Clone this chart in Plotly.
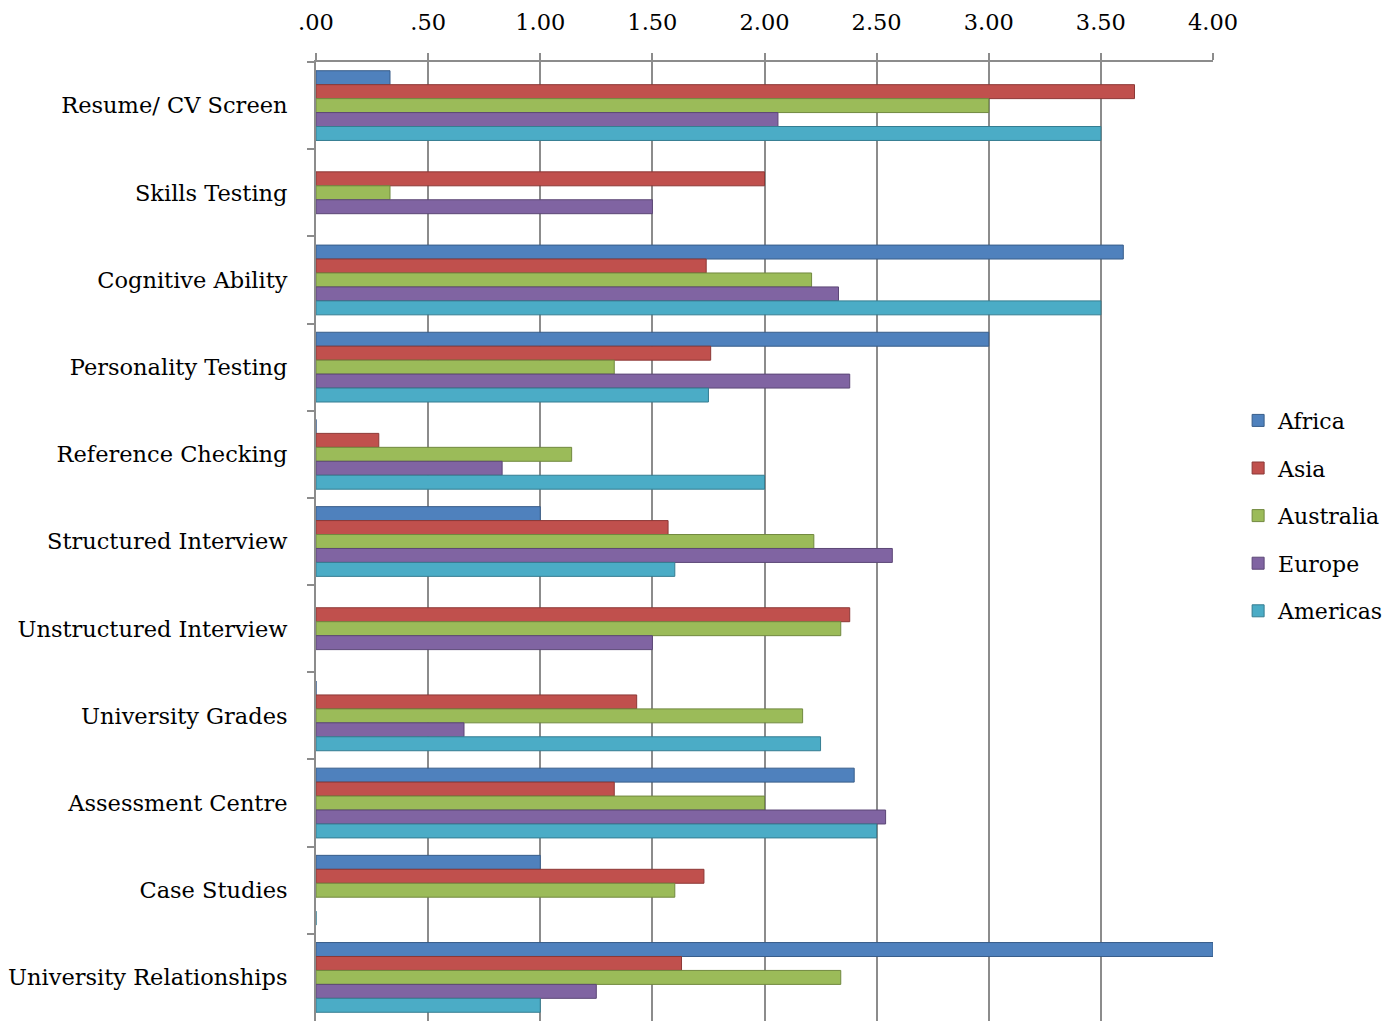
import plotly.graph_objects as go

categories = ["Resume/ CV Screen", "Skills Testing", "Cognitive Ability", "Personality Testing",
              "Reference Checking", "Structured Interview", "Unstructured Interview",
              "University Grades", "Assessment Centre", "Case Studies", "University Relationships"]

africa    = [0.33, None, 3.60, 3.00, 0.0, 1.00, None, 0.0, 2.40, 1.00, 4.00]
asia      = [3.65, 2.00, 1.74, 1.76, 0.28, 1.57, 2.38, 1.43, 1.33, 1.73, 1.63]
australia = [3.00, 0.33, 2.21, 1.33, 1.14, 2.22, 2.34, 2.17, 2.00, 1.60, 2.34]
europe    = [2.06, 1.50, 2.33, 2.38, 0.83, 2.57, 1.50, 0.66, 2.54, None, 1.25]
americas  = [3.50, None, 3.50, 1.75, 2.00, 1.60, None, 2.25, 2.50, 0.0, 1.00]

series_names = ["Africa", "Asia", "Australia", "Europe", "Americas"]
series_vals = [africa, asia, australia, europe, americas]
colors = ["#4F81BD", "#C0504D", "#9BBB59", "#8064A2", "#4BACC6"]
edge = ["#385D8A", "#8C3836", "#71893F", "#5C4776", "#357D91"]

tick_vals = [0, 0.5, 1, 1.5, 2, 2.5, 3, 3.5, 4]
tick_text = [".00", ".50", "1.00", "1.50", "2.00", "2.50", "3.00", "3.50", "4.00"]

FONT = "DejaVu Serif"

fig = go.Figure()
for name, vals, c, e in zip(series_names, series_vals, colors, edge):
    fig.add_trace(go.Bar(
        y=categories, x=vals, name=name, orientation="h",
        marker=dict(color=c, line=dict(color=e, width=1)),
        legendgroup=name,
    ))

fig.update_layout(
    width=1391, height=1021,
    margin=dict(l=316, r=178, t=62, b=0),
    paper_bgcolor="white", plot_bgcolor="white",
    barmode="group", bargap=0.2, bargroupgap=0,
    font=dict(family=FONT, size=22, color="black"),
    legend=dict(x=1.028, y=0.527, yanchor="middle", xanchor="left",
                font=dict(size=22), traceorder="grouped", tracegroupgap=16,
                itemwidth=30),
    showlegend=True,
)
fig.update_xaxes(
    side="top", range=[0, 4], tickvals=tick_vals, ticktext=tick_text,
    showgrid=True, gridcolor="#8C8C8C", gridwidth=2,
    showline=True, linecolor="#8C8C8C", linewidth=2,
    ticks="outside", ticklen=7, tickcolor="#8C8C8C", tickwidth=2,
    ticklabelstandoff=14, zeroline=False,
    tickfont=dict(size=22.5),
)
fig.update_yaxes(
    autorange="reversed", type="category",
    showline=True, linecolor="#8C8C8C", linewidth=2,
    ticks="outside", ticklen=7, tickcolor="#8C8C8C", tickwidth=2,
    tickson="boundaries", ticklabelstandoff=22, showgrid=False,
    tickfont=dict(size=22.5),
)

fig.write_html("out.html")
